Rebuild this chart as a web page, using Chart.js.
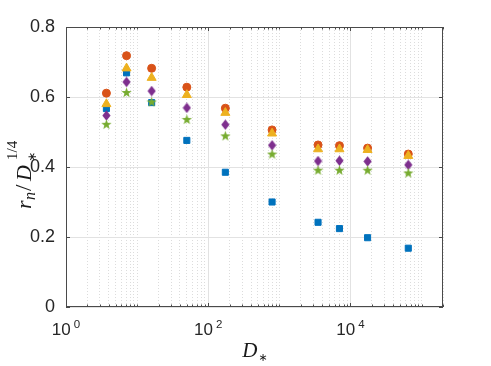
<!DOCTYPE html>
<html><head><meta charset="utf-8">
<script src="https://cdn.jsdelivr.net/npm/chart.js@4.4.0/dist/chart.umd.min.js"></script>
<style>html,body{margin:0;padding:0;background:#fff;overflow:hidden}</style>
</head><body>
<canvas id="c" width="491" height="366" style="width:491px;height:366px;display:block"></canvas>
<script>
// ---- data ----
const dStar = [3.7, 7.1, 16, 50, 174, 790, 3500, 7000, 17400, 65000];
const seriesSquare   = [0.567, 0.669, 0.584, 0.476, 0.385, 0.300, 0.242, 0.224, 0.198, 0.168];
const seriesCircle   = [0.611, 0.718, 0.682, 0.628, 0.568, 0.506, 0.463, 0.461, 0.454, 0.437];
const seriesTriangle = [0.580, 0.682, 0.655, 0.606, 0.555, 0.496, 0.451, 0.451, 0.449, 0.432];
const seriesDiamond  = [0.547, 0.643, 0.617, 0.569, 0.521, 0.462, 0.417, 0.418, 0.416, 0.406];
const seriesStar     = [0.522, 0.613, 0.586, 0.536, 0.489, 0.437, 0.391, 0.391, 0.391, 0.383];
const xDecades = [1, 10, 100, 1000, 10000, 100000];
const xLabeledTicks = [1, 100, 10000];
const xTickLabels = ['0', '2', '4'];
const yTicks = [0, 0.2, 0.4, 0.6, 0.8];

function pts(ys) { return ys.map((y, i) => ({x: dStar[i], y})); }

function makeDiamond(color) {
  const c = document.createElement('canvas'); c.width = 9; c.height = 11;
  const g = c.getContext('2d'); g.fillStyle = color; g.beginPath();
  g.moveTo(4.5, 0.3); g.lineTo(8.6, 5.5); g.lineTo(4.5, 10.7); g.lineTo(0.4, 5.5); g.closePath(); g.fill();
  return c;
}
function makeStar(color) {
  const c = document.createElement('canvas'); c.width = 11; c.height = 11;
  const g = c.getContext('2d'); g.fillStyle = color; g.beginPath();
  const cx = 5.5, cy = 5.9, R = 5.4, r = 2.2;
  for (let k = 0; k < 10; k++) {
    const a = -Math.PI / 2 + k * Math.PI / 5; const rr = k % 2 ? r : R;
    const px = cx + rr * Math.cos(a), py = cy + rr * Math.sin(a);
    k ? g.lineTo(px, py) : g.moveTo(px, py);
  }
  g.closePath(); g.fill();
  return c;
}

const FONT = "'Liberation Sans', Arial, sans-serif";
const SERIF = "'Liberation Serif', 'DejaVu Serif', serif";

const decor = {
  id: 'decor',
  afterDraw(chart) {
    const {ctx, chartArea: a, scales: {x, y}} = chart;
    ctx.save();
    // box
    ctx.strokeStyle = '#4a4a4a'; ctx.lineWidth = 1;
    ctx.strokeRect(Math.round(a.left) + 0.5, Math.round(a.top) + 0.5, Math.round(a.right - a.left) - 1, Math.round(a.bottom - a.top) - 1);
    // inward ticks
    ctx.beginPath();
    x.ticks.forEach(t => {
      const px = Math.round(x.getPixelForValue(t.value)) + 0.5; const L = t.major ? 4 : 2.5;
      ctx.moveTo(px, a.bottom); ctx.lineTo(px, a.bottom - L);
      ctx.moveTo(px, a.top); ctx.lineTo(px, a.top + L);
    });
    y.ticks.forEach(t => {
      const py = Math.round(y.getPixelForValue(t.value)) + 0.5;
      ctx.moveTo(a.left, py); ctx.lineTo(a.left + 4, py);
      ctx.moveTo(a.right, py); ctx.lineTo(a.right - 4, py);
    });
    ctx.stroke();
    // x tick labels 10^n
    ctx.fillStyle = '#262626'; ctx.textBaseline = 'alphabetic'; ctx.textAlign = 'left';
    xLabeledTicks.forEach((v, i) => {
      const px = x.getPixelForValue(v);
      ctx.font = '17px ' + FONT; const w1 = ctx.measureText('10').width;
      ctx.font = '11.5px ' + FONT; const w2 = ctx.measureText(xTickLabels[i]).width;
      const gap = 3, start = px - (w1 + gap + w2) / 2;
      ctx.font = '17px ' + FONT; ctx.fillText('10', start, 335);
      ctx.font = '11.5px ' + FONT; ctx.fillText(xTickLabels[i], start + w1 + gap, 328);
    });
    // x title D_*
    ctx.fillStyle = '#1a1a1a';
    ctx.font = 'italic 21px ' + SERIF; const wD = ctx.measureText('D').width;
    ctx.font = '11px ' + "'DejaVu Sans'"; const wS = ctx.measureText('\u2217').width;
    const cx = (a.left + a.right) / 2; const sx = cx - (wD + wS) / 2;
    ctx.font = 'italic 21px ' + SERIF; ctx.fillText('D', sx, 357);
    ctx.font = '11px ' + "'DejaVu Sans'"; ctx.fillText('\u2217', sx + wD + 1, 361);
    // y title r_n / D_*^{1/4}
    ctx.translate(31, 0); ctx.rotate(-Math.PI / 2);
    ctx.font = 'italic 22px ' + SERIF; ctx.fillText('r', -209, 0);
    ctx.font = 'italic 16px ' + SERIF; ctx.fillText('n', -200, 4);
    ctx.font = '23px ' + SERIF; ctx.fillText('/', -191, 0);
    ctx.font = 'italic 22px ' + SERIF; ctx.fillText('D', -181, 0);
    ctx.font = '12px ' + "'DejaVu Sans'"; ctx.fillText('\u2217', -162, 5);
    ctx.font = '15px ' + SERIF; ctx.fillText('1/4', -160, -14);
    ctx.restore();
  }
};

new Chart(document.getElementById('c'), {
  type: 'scatter',
  data: {
    datasets: [
      {label: 'square', data: pts(seriesSquare), pointStyle: 'rect', pointRadius: 4.3, backgroundColor: '#0072BD', borderColor: '#0072BD', borderWidth: 1, order: 5},
      {label: 'circle', data: pts(seriesCircle), pointStyle: 'circle', pointRadius: 4, backgroundColor: '#D95319', borderColor: '#D95319', borderWidth: 1, order: 4},
      {label: 'triangle', data: pts(seriesTriangle), pointStyle: 'triangle', pointRadius: 5.2, backgroundColor: '#EDB120', borderColor: '#EDB120', borderWidth: 1, order: 3},
      {label: 'diamond', data: pts(seriesDiamond), pointStyle: makeDiamond('#7E2F8E'), pointRadius: 5, backgroundColor: '#7E2F8E', borderColor: '#7E2F8E', order: 2},
      {label: 'star', data: pts(seriesStar), pointStyle: makeStar('#77AC30'), pointRadius: 5, backgroundColor: '#77AC30', borderColor: '#77AC30', order: 1}
    ]
  },
  options: {
    responsive: false, animation: false, devicePixelRatio: 1,
    layout: {padding: {left: 0, top: 27, right: 48, bottom: 0}},
    plugins: {legend: {display: false}, tooltip: {enabled: false}},
    scales: {
      x: {
        type: 'logarithmic', min: 1, max: 2e5,
        afterBuildTicks: s => {
          const t = [];
          xDecades.forEach(d => { for (let k = 1; k <= 9; k++) { const v = d * k; if (v <= 2e5) t.push({value: v, major: xLabeledTicks.includes(v)}); } });
          s.ticks = t;
        },
        afterFit: s => { s.height = 59; },
        ticks: {display: false},
        grid: {drawTicks: false, lineWidth: 1, color: c => (c.tick && c.tick.major) ? '#e2e2e2' : '#dcdcdc'},
        border: {display: false, dash: c => (c.tick && c.tick.major) ? [] : [1, 2]}
      },
      y: {
        min: 0, max: 0.8,
        afterBuildTicks: s => { s.ticks = yTicks.map(v => ({value: v})); },
        afterFit: s => { s.width = 66; },
        ticks: {font: {family: FONT, size: 18}, color: '#262626', padding: 11},
        grid: {drawTicks: false, color: '#e2e2e2', lineWidth: 1},
        border: {display: false}
      }
    }
  },
  plugins: [decor]
});
</script>
</body></html>
